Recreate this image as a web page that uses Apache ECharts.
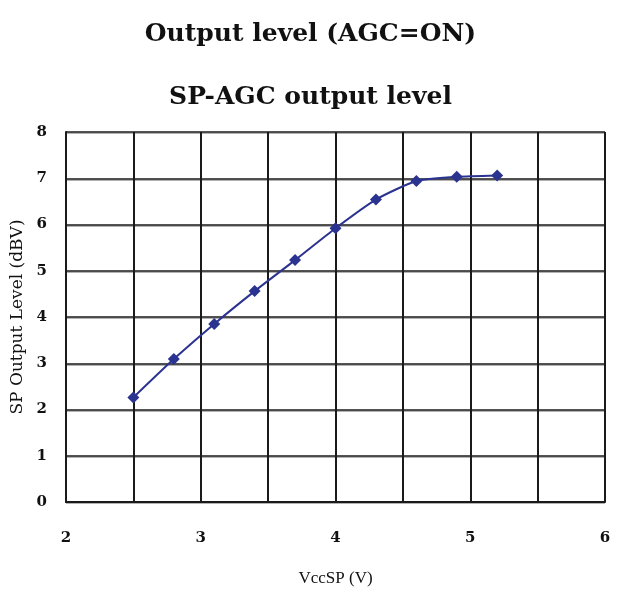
<!DOCTYPE html>
<html><head><meta charset="utf-8">
<script src="https://cdn.jsdelivr.net/npm/echarts@6/dist/echarts.min.js"></script>
<style>html,body{margin:0;padding:0;background:#fff}#c{width:621px;height:590px}</style>
</head><body><div id="c"></div>
<script>
const vcc = [2.5, 2.8, 3.1, 3.4, 3.7, 4.0, 4.3, 4.6, 4.9, 5.2];
const level = [2.26, 3.09, 3.85, 4.56, 5.23, 5.92, 6.54, 6.94, 7.03, 7.06];
const mainTitle = 'Output level (AGC=ON)';
const subTitle = 'SP-AGC output level';
const xName = 'VccSP (V)';
const yName = 'SP Output Level (dBV)';

const chart = echarts.init(document.getElementById('c'));
chart.setOption({
  animation:false,
  backgroundColor:'#fff',
  title:[
    {text:mainTitle, left:'center', top:17, textStyle:{fontFamily:'DejaVu Serif', fontWeight:'bold', fontSize:25, color:'#111'}},
    {text:subTitle, left:'center', top:80, textStyle:{fontFamily:'DejaVu Serif', fontWeight:'bold', fontSize:25, color:'#111'}}
  ],
  grid:{left:66, right:16, top:132, bottom:88, containLabel:false, outerBoundsMode:'none'},
  xAxis:{
    type:'value', min:2, max:6, interval:0.5,
    name:xName, nameLocation:'middle', nameGap:68,
    nameTextStyle:{fontFamily:'Liberation Serif', fontSize:17, color:'#111'},
    axisLine:{show:true, lineStyle:{color:'#1a1a1a', width:2}},
    axisTick:{show:false},
    axisLabel:{margin:29, fontFamily:'DejaVu Serif', fontWeight:'bold', fontSize:15, color:'#111',
      formatter:v => (Math.abs(v - Math.round(v)) < 1e-9 ? String(Math.round(v)) : '')},
    splitLine:{show:true, lineStyle:{color:'#1a1a1a', width:2}}
  },
  yAxis:{
    type:'value', min:0, max:8, interval:1,
    name:yName, nameLocation:'middle', nameGap:38,
    nameTextStyle:{fontFamily:'DejaVu Serif', fontSize:17, color:'#111'},
    axisLine:{show:true, lineStyle:{color:'#1a1a1a', width:2}},
    axisTick:{show:false},
    axisLabel:{margin:19, fontFamily:'DejaVu Serif', fontWeight:'bold', fontSize:15, color:'#111'},
    splitLine:{show:true, lineStyle:{color:'#1a1a1a', width:1.6, shadowColor:'rgba(0,0,0,0.3)', shadowOffsetY:1.2, shadowBlur:0}}
  },
  series:[{
    type:'line', data:vcc.map((x,i)=>[x, level[i]]),
    smooth:0.2, symbol:'diamond', symbolSize:12,
    lineStyle:{color:'#2b3390', width:2},
    itemStyle:{color:'#2b3390'}
  }]
});
</script></body></html>
